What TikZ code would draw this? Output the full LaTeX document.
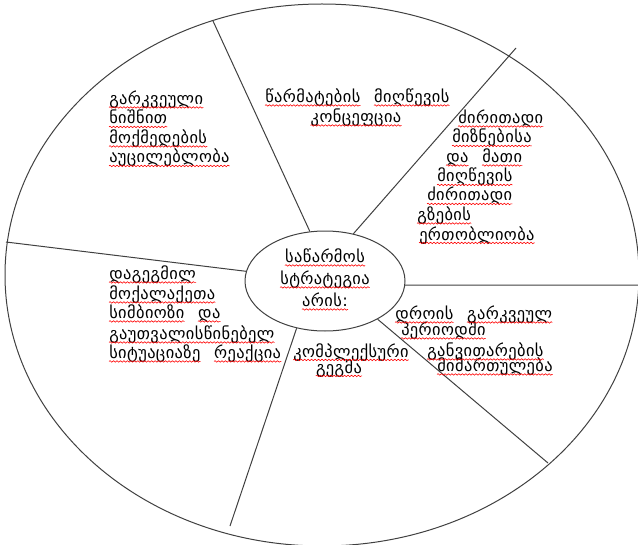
\documentclass[tikz,border=0pt]{standalone}
\usepackage{fontspec}
\usetikzlibrary{shapes.geometric,decorations.pathmorphing}
\newfontfamily\geo[LetterSpace=2.5]{DejaVu Sans}
\begin{document}
\begin{tikzpicture}[x=0.75pt,y=-0.75pt,
  spoke/.style={draw=black!75,line width=0.75pt},
  txt/.style={inner sep=0pt,font=\geo\fontsize{12.3}{14}\selectfont},
  lft/.style={txt,anchor=base west},
  ctr/.style={txt,anchor=base},
  squiggle/.style={draw=red,line width=0.45pt,decorate,
    decoration={snake,amplitude=0.55pt,segment length=2.6pt}}]
\useasboundingbox (0,0) rectangle (638,545);

% outer ring
\draw[spoke] (322,275) ellipse [x radius=237.75pt, y radius=203.25pt];

% hub
\node[spoke,ellipse,inner sep=0pt,minimum width=120pt,minimum height=75pt] (hub) at (325,281) {};
\node[ctr] (h1) at (325,262.5) {საწარმოს};
\node[ctr] (h2) at (325,284.5) {სტრატეგია};
\node[ctr] (h3) at (325,306.5) {არის:};

% spoke ends on the outer ring
\coordinate (o1) at (213,21);
\coordinate (o2) at (516,48);
\coordinate (o3) at (639,285);
\coordinate (o4) at (548,463);
\coordinate (o5) at (230,526);
\coordinate (o6) at (6,242);

\draw[spoke] (hub.107) -- (o1);
\draw[spoke] (hub.59) -- (o2);
\draw[spoke] (hub.-3) -- (o3);
\draw[spoke] (hub.-36) -- (o4);
\draw[spoke] (hub.-121) -- (o5);
\draw[spoke] (hub.173) -- (o6);

% upper left sector
\node[lft] (a1) at (109,104.5) {გარკვეული};
\node[lft] (a2) at (109,124) {ნიშნით};
\node[lft] (a3) at (109,143.5) {მოქმედების};
\node[lft] (a4) at (109,163) {აუცილებლობა};

% top sector
\node[lft] (b1) at (265,102.5) {წარმატების};
\node[lft] (b1x) at ([xshift=10pt]b1.base east) {მიღწევის};
\node[ctr] (b2) at (356,122.5) {კონცეფცია};

% upper right sector
\node[lft] (c1) at (458,123.5) {ძირითადი};
\node[lft] (c2) at (452,143) {მიზნებისა};
\node[lft] (c3) at (446,162.5) {და};
\node[lft] (c3x) at ([xshift=10pt]c3.base east) {მათი};
\node[lft] (c4) at (437,182) {მიღწევის};
\node[lft] (c5) at (427,201) {ძირითადი};
\node[lft] (c6) at (417,220.5) {გზების};
\node[lft] (c7) at (419,240) {ერთობლიობა};

% lower right sector
\node[lft] (d1) at (395,319.5) {დროის};
\node[lft] (d1x) at ([xshift=10pt]d1.base east) {გარკვეულ};
\node[lft] (d2) at (401,335.5) {პერიოდში};
\node[lft] (d3) at (427,356.5) {განვითარების};
\node[lft] (d4) at (437,371.5) {მიმართულება};

% bottom sector
\node[ctr] (e1) at (351,357) {კომპლექსური};
\node[ctr] (e2) at (339,373) {გეგმა};

% left sector
\node[lft] (f1) at (109,279.5) {დაგეგმილ};
\node[lft] (f2) at (109,299.5) {მოქალაქეთა};
\node[lft] (f3) at (109,318.5) {სიმბიოზი};
\node[lft] (f3x) at ([xshift=10pt]f3.base east) {და};
\node[lft] (f4) at (109,339.5) {გაუთვალისწინებელ};
\node[lft] (f5) at (109,358.5) {სიტუაციაზე};
\node[lft] (f5x) at ([xshift=10pt]f5.base east) {რეაქცია};

% wavy red underlines beneath every word
\foreach \w in {h1,h2,h3,a1,a2,a3,a4,b1,b1x,b2,c1,c2,c3,c3x,c4,c5,c6,c7,
                d1,d1x,d2,d3,d4,e1,e2,f1,f2,f3,f3x,f4,f5,f5x}
  \draw[squiggle] ([yshift=-2.2pt]\w.base west) -- ([yshift=-2.2pt]\w.base east);
\end{tikzpicture}
\end{document}
